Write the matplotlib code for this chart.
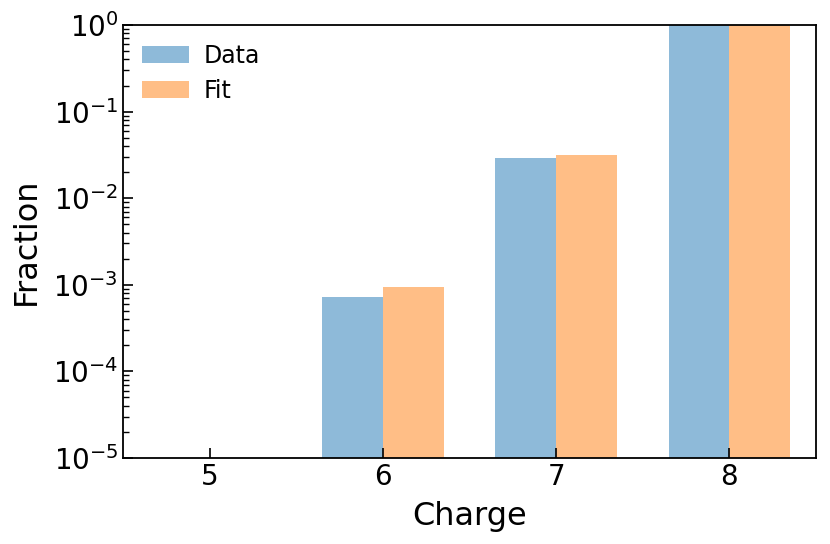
import matplotlib
matplotlib.use("Agg")
import matplotlib.pyplot as plt
import numpy as np

charges = [5, 6, 7, 8]
data_frac = [0.0, 7.3e-4, 0.0289, 1.0]
fit_frac = [0.0, 9.35e-4, 0.0313, 1.0]

fig = plt.figure(figsize=(8.3, 5.44), dpi=100)
ax = fig.add_axes([123/830, 1-458/544, (816-123)/830, (458-25)/544])
x = np.array(charges, dtype=float)
w = 0.35
ax.bar(x - w/2, data_frac, w, color='tab:blue', alpha=0.5, label='Data')
ax.bar(x + w/2, fit_frac, w, color='tab:orange', alpha=0.5, label='Fit')
ax.set_yscale('log')
ax.set_ylim(1e-5, 1)
ax.set_xlim(4.5, 8.5)
ax.set_xticks(charges)
ax.tick_params(direction='in', which='both', labelsize=20, length=7, width=1.2)
ax.tick_params(which='minor', length=4, width=1)
for s in ax.spines.values():
    s.set_linewidth(1.3)
ax.set_xlabel('Charge', fontsize=23, labelpad=7)
ax.set_ylabel('Fraction', fontsize=23, labelpad=8)
ax.legend(fontsize=17, frameon=False, loc='upper left', handletextpad=0.6,
          labelspacing=0.45, borderaxespad=0.4)
fig.savefig('out.png', dpi=100)
